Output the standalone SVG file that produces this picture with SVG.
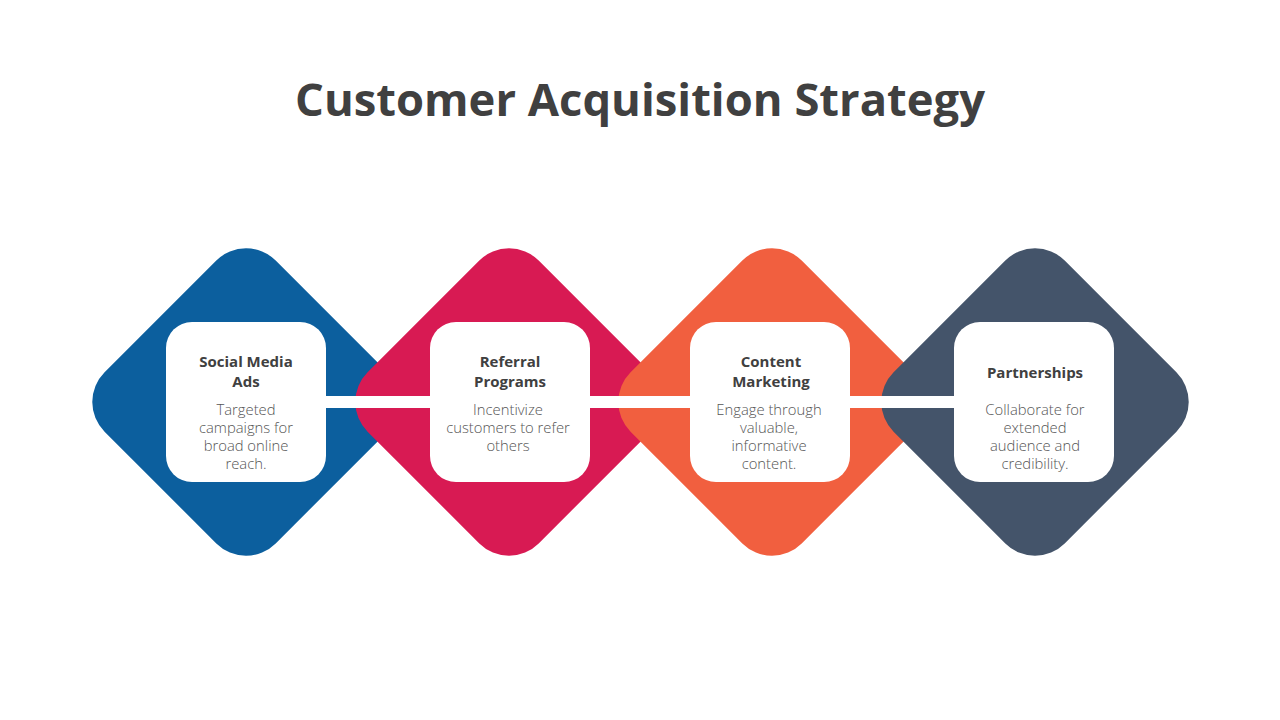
<svg xmlns="http://www.w3.org/2000/svg" width="1280" height="720" viewBox="0 0 1280 720">
  <style>
    .title { font-family: "Open Sans", "Liberation Sans", sans-serif; font-weight: 700; font-size: 45px; fill: #404040; }
    .head { font-family: "Open Sans", "Liberation Sans", sans-serif; font-weight: 700; font-size: 15px; fill: #404040; text-anchor: middle; }
    .body { font-family: "Open Sans", "Liberation Sans", sans-serif; font-weight: 300; font-size: 14.8px; fill: #555555; text-anchor: middle; }
    .box { fill: #FFFFFF; }
  </style>
  <rect width="1280" height="720" fill="#FFFFFF"/>
  <text class="title" x="640" y="116" text-anchor="middle" textLength="690" lengthAdjust="spacingAndGlyphs">Customer Acquisition Strategy</text>

  <g id="diamonds">
    <rect id="diamond-1" x="125" y="281" width="242" height="242" rx="42" fill="#0C5F9E" transform="rotate(45 246 402)"/>
    <rect id="diamond-2" x="388" y="281" width="242" height="242" rx="42" fill="#D81A53" transform="rotate(45 509 402)"/>
    <rect id="diamond-3" x="651" y="281" width="242" height="242" rx="42" fill="#F15F3F" transform="rotate(45 772 402)"/>
    <rect id="diamond-4" x="914" y="281" width="242" height="242" rx="42" fill="#44546A" transform="rotate(45 1035 402)"/>
  </g>

  <g id="connectors">
    <rect x="320" y="396" width="640" height="12" fill="#FFFFFF"/>
  </g>

  <g id="node-1">
    <rect class="box" x="166" y="322" width="160" height="160" rx="26"/>
    <text class="head" x="246" y="367"><tspan x="246">Social Media</tspan><tspan x="246" dy="20">Ads</tspan></text>
    <text class="body" x="246" y="415"><tspan x="246">Targeted</tspan><tspan x="246" dy="18">campaigns for</tspan><tspan x="246" dy="18">broad online</tspan><tspan x="246" dy="18">reach.</tspan></text>
  </g>

  <g id="node-2">
    <rect class="box" x="430" y="322" width="160" height="160" rx="26"/>
    <text class="head" x="510" y="367"><tspan x="510">Referral</tspan><tspan x="510" dy="20">Programs</tspan></text>
    <text class="body" x="508" y="415"><tspan x="508">Incentivize</tspan><tspan x="508" dy="18">customers to refer</tspan><tspan x="508" dy="18">others</tspan></text>
  </g>

  <g id="node-3">
    <rect class="box" x="690" y="322" width="160" height="160" rx="26"/>
    <text class="head" x="771" y="367"><tspan x="771">Content</tspan><tspan x="771" dy="20">Marketing</tspan></text>
    <text class="body" x="769" y="415"><tspan x="769">Engage through</tspan><tspan x="769" dy="18">valuable,</tspan><tspan x="769" dy="18">informative</tspan><tspan x="769" dy="18">content.</tspan></text>
  </g>

  <g id="node-4">
    <rect class="box" x="954" y="322" width="160" height="160" rx="26"/>
    <text class="head" x="1035" y="378">Partnerships</text>
    <text class="body" x="1035" y="415"><tspan x="1035">Collaborate for</tspan><tspan x="1035" dy="18">extended</tspan><tspan x="1035" dy="18">audience and</tspan><tspan x="1035" dy="18">credibility.</tspan></text>
  </g>
</svg>
